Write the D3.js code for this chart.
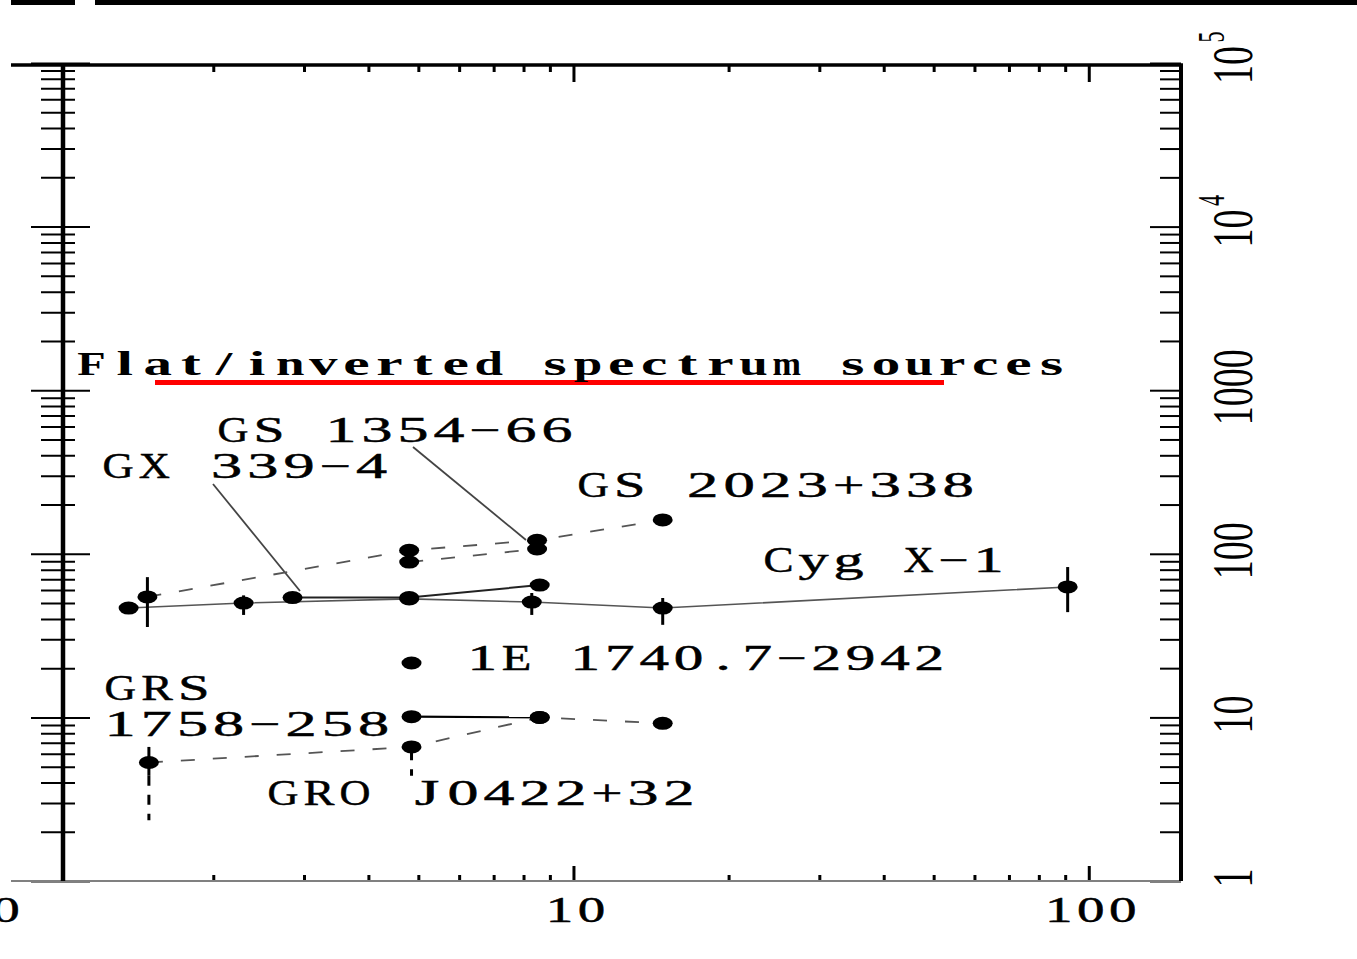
<!DOCTYPE html>
<html>
<head>
<meta charset="utf-8">
<script src="https://cdn.jsdelivr.net/npm/d3@7"></script>
<style>
html, body { margin: 0; padding: 0; background: #fff; }
svg { display: block; }
text { font-family: "Liberation Serif", "DejaVu Serif", serif; fill: #000; }
</style>
</head>
<body>
<svg id="chart" width="1357" height="959"></svg>
<script>
// radio spectra: frequency (GHz) vs flux density (mJy)
var gs2023  = [[1.49, 54.5], [4.8, 105], [8.5, 121], [14.9, 161]];
var gs1354  = [[4.8, 89], [8.5, 107]];
var gx339   = [[2.85, 54], [4.8, 54], [8.6, 64.4]];
var cygX1   = [[1.37, 46.6], [2.29, 50], [4.8, 53], [8.3, 50.7], [14.9, 46.6], [91, 62.7]];
var e1740   = [[4.85, 21.5]];
var grs1758 = [[4.85, 10.1], [8.6, 10]];
var gro0422 = [[1.5, 5.3], [4.85, 6.6], [8.6, 10], [14.9, 9.2]];

// error bars [freq, low, high]
var errBars   = [[1.49, 35.7, 72], [2.29, 42.3, 55.7], [8.3, 42.3, 57.6], [14.9, 36.8, 53.7], [91, 44, 83], [1.5, 4.4, 6.6]];
var limitBars = [[1.5, 2.35, 4.4], [4.85, 4.4, 6.3]];

var xLabels = ["10", "100"];
var xLabelVals = [10, 100];
var yLabelVals = [1, 10, 100, 1000, 1e4, 1e5];
var yLabels = ["1", "10", "100", "1000", "10", "10"];
var yExps = ["", "", "", "", "4", "5"];

var title = "Flat/inverted spectrum sources";
var names = ["GS 1354\u221266", "GX 339\u22124", "GS 2023+338", "Cyg X\u22121",
             "1E 1740.7\u22122942", "GRS", "1758\u2212258", "GRO J0422+32"];

var svg = d3.select("#chart");

var x = d3.scaleLog().domain([0.81, 151]).range([11, 1181]);
var y = d3.scaleLog().domain([1, 1e5]).range([881, 63]);

var plotL = 63, plotR = 1181, plotT = 65, plotB = 881;

// scan artefact bar at the very top
svg.append("rect").attr("x", 11).attr("y", 0).attr("width", 64).attr("height", 5).attr("fill", "#000");
svg.append("rect").attr("x", 95).attr("y", 0).attr("width", 1262).attr("height", 5).attr("fill", "#000");

var xMinor = x.ticks().filter(function(t) { return t > 1.05 && xLabelVals.indexOf(t) < 0; });
var yMinor = y.ticks().filter(function(t) { return yLabelVals.indexOf(t) < 0; });

function cleanAxis(g, w) {
    g.select(".domain").remove();
    g.selectAll(".tick line").attr("stroke", "#000").attr("stroke-width", w);
    g.selectAll(".tick text").remove();
}

// top ticks
svg.append("g").attr("transform", "translate(0," + plotT + ")")
   .call(d3.axisBottom(x).tickValues(xMinor).tickSize(7)).call(cleanAxis, 3);
svg.append("g").attr("transform", "translate(0," + plotT + ")")
   .call(d3.axisBottom(x).tickValues(xLabelVals).tickSize(17)).call(cleanAxis, 3);
// bottom ticks
svg.append("g").attr("transform", "translate(0," + plotB + ")")
   .call(d3.axisTop(x).tickValues(xMinor).tickSize(6)).call(cleanAxis, 3);
svg.append("g").attr("transform", "translate(0," + plotB + ")")
   .call(d3.axisTop(x).tickValues(xLabelVals).tickSize(15)).call(cleanAxis, 3);

// left ticks, both sides of the axis
svg.append("g").attr("transform", "translate(75,0)")
   .call(d3.axisLeft(y).tickValues(yMinor).tickSize(34)).call(cleanAxis, 2);
svg.append("g").attr("transform", "translate(90,0)")
   .call(d3.axisLeft(y).tickValues(yLabelVals).tickSize(59)).call(cleanAxis, 2);
// right ticks, inward
svg.append("g").attr("transform", "translate(" + plotR + ",0)")
   .call(d3.axisLeft(y).tickValues(yMinor).tickSize(21)).call(cleanAxis, 2);
svg.append("g").attr("transform", "translate(" + plotR + ",0)")
   .call(d3.axisLeft(y).tickValues(yLabelVals).tickSize(31)).call(cleanAxis, 2);

// frame
svg.append("line").attr("x1", 11).attr("x2", plotR + 2).attr("y1", plotT).attr("y2", plotT)
   .attr("stroke", "#000").attr("stroke-width", 3.5);
svg.append("line").attr("x1", 11).attr("x2", plotR).attr("y1", plotB).attr("y2", plotB)
   .attr("stroke", "#808080").attr("stroke-width", 2);
svg.append("line").attr("x1", plotL).attr("x2", plotL).attr("y1", plotT - 1).attr("y2", plotB)
   .attr("stroke", "#000").attr("stroke-width", 4.5);
svg.append("line").attr("x1", plotR).attr("x2", plotR).attr("y1", plotT - 1).attr("y2", plotB)
   .attr("stroke", "#000").attr("stroke-width", 4);

// typewriter-like text: one glyph per fixed cell, each glyph widened to suit the cell
function monoText(str, x0, base, cell, fs, weight) {
    var g = svg.append("g");
    str.split("").forEach(function(ch, i) {
        if (ch === " ") return;
        var t = g.append("text")
           .attr("x", x0 + (i + 0.5) * cell)
           .attr("y", base)
           .attr("font-size", fs)
           .attr("font-weight", weight || "normal")
           .attr("text-anchor", "middle")
           .attr("stroke", "#000")
           .attr("stroke-width", weight ? 0 : 0.45)
           .text(ch);
        var w = t.node().getComputedTextLength();
        var target = Math.max(w, Math.min(w * 1.8, cell * 0.86));
        t.attr("textLength", target).attr("lengthAdjust", "spacingAndGlyphs");
    });
}

// bottom labels
xLabels.forEach(function(d, i) {
    monoText(d, x(xLabelVals[i]) - d.length * 16 + 2, 922, 32, 35);
});
// cut label at far left
monoText("0", -10, 922, 32, 35);

// right labels, rotated
yLabelVals.forEach(function(v, i) {
    var s = yLabels[i];
    var len = s.length * 19;
    var cy = yExps[i] ? y(v) + 2 : y(v) - 3;
    svg.append("text")
       .attr("transform", "translate(1252," + cy + ") rotate(-90) scale(1,1.75)")
       .attr("text-anchor", "middle")
       .attr("font-size", 33)
       .attr("textLength", len)
       .attr("lengthAdjust", "spacingAndGlyphs")
       .text(s);
    if (yExps[i]) {
        svg.append("text")
           .attr("transform", "translate(1224," + (cy - len / 2 - 9) + ") rotate(-90) scale(1,1.75)")
           .attr("text-anchor", "middle")
           .attr("font-size", 22)
           .text(yExps[i]);
    }
});

// title and underline
svg.append("rect").attr("x", 155).attr("y", 380).attr("width", 789).attr("height", 5).attr("fill", "#ff0000");
monoText(title, 75, 375, 33.1, 33, "bold");

// source labels: [x, baseline, cell width]
var labelPos = [[215, 442, 36], [100, 478, 36.2], [575, 497, 36.5], [761, 572, 35],
                [465, 670, 34.4], [102, 700, 36.7], [102, 736, 36.2], [265, 805, 36]];
names.forEach(function(d, i) {
    monoText(d, labelPos[i][0], labelPos[i][1], labelPos[i][2], 35);
});

// leader lines
var leaders = [[213, 484, 300, 591], [413, 447, 526, 540]];
svg.selectAll(".ld").data(leaders).enter().append("line")
   .attr("x1", function(d) { return d[0]; }).attr("y1", function(d) { return d[1]; })
   .attr("x2", function(d) { return d[2]; }).attr("y2", function(d) { return d[3]; })
   .attr("stroke", "#444").attr("stroke-width", 1.8);

// series lines
var line = d3.line().x(function(d) { return x(d[0]); }).y(function(d) { return y(d[1]); });
var series = [
    {data: cygX1, dash: null, col: "#555", w: 1.6},
    {data: gx339, dash: null, col: "#222", w: 2},
    {data: grs1758, dash: null, col: "#000", w: 2.2},
    {data: gs2023, dash: "14,18", col: "#555", w: 1.8},
    {data: gs1354, dash: "14,18", col: "#555", w: 1.8},
    {data: gro0422, dash: "14,18", col: "#555", w: 1.8}
];
svg.selectAll(".sl").data(series).enter().append("path")
   .attr("d", function(d) { return line(d.data); })
   .attr("fill", "none")
   .attr("stroke", function(d) { return d.col; })
   .attr("stroke-width", function(d) { return d.w; })
   .attr("stroke-dasharray", function(d) { return d.dash; });

// error bars
svg.selectAll(".eb").data(errBars).enter().append("line")
   .attr("x1", function(d) { return x(d[0]); }).attr("x2", function(d) { return x(d[0]); })
   .attr("y1", function(d) { return y(d[1]); }).attr("y2", function(d) { return y(d[2]); })
   .attr("stroke", "#000").attr("stroke-width", 3);
svg.selectAll(".lb").data(limitBars).enter().append("line")
   .attr("x1", function(d) { return x(d[0]); }).attr("x2", function(d) { return x(d[0]); })
   .attr("y1", function(d) { return y(d[2]); }).attr("y2", function(d) { return y(d[1]); })
   .attr("stroke", "#000").attr("stroke-width", 3).attr("stroke-dasharray", "10,9");

// points
var allPts = [].concat(gs2023, gs1354, gx339, cygX1, e1740, grs1758, gro0422);
svg.selectAll(".pt").data(allPts).enter().append("ellipse")
   .attr("cx", function(d) { return x(d[0]); })
   .attr("cy", function(d) { return y(d[1]); })
   .attr("rx", 10).attr("ry", 6.5)
   .attr("fill", "#000");
</script>
</body>
</html>
